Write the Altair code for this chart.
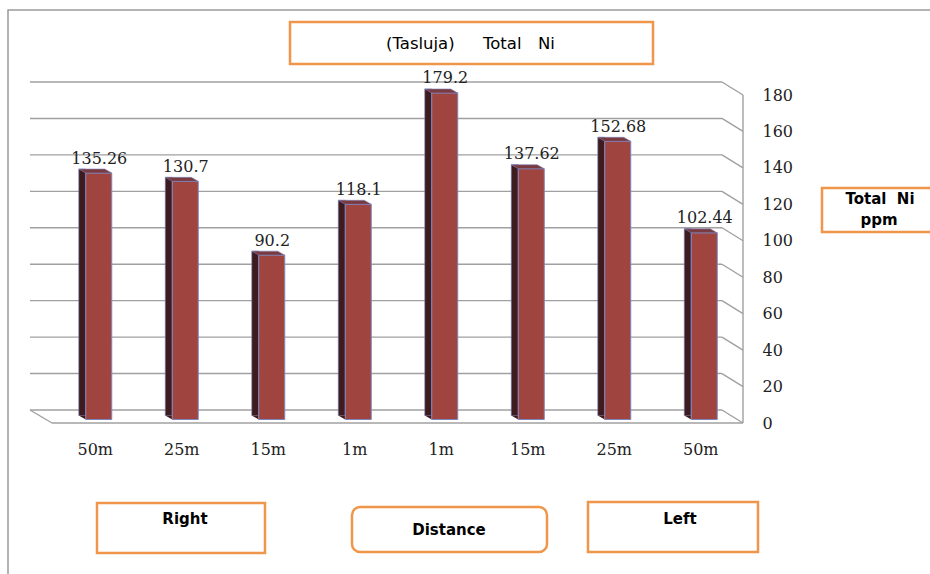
import json
import altair as alt
import pandas as pd

# ---- data -------------------------------------------------------------
distance_labels = ["50m", "25m", "15m", "1m", "1m", "15m", "25m", "50m"]
total_ni_ppm = [135.26, 130.7, 90.2, 118.1, 179.2, 137.62, 152.68, 102.44]
y_ticks = [0, 20, 40, 60, 80, 100, 120, 140, 160, 180]

bars = pd.DataFrame({
    "idx": list(range(len(total_ni_ppm))),
    "ni": total_ni_ppm,
})
bars["ni_text"] = bars["ni"].map(str)
ticks = pd.DataFrame({"t": y_ticks})
one = alt.Data(values=[{"k": 0}])

# ---- layout -----------------------------------------------------------
L, T = 52, 95          # plot origin on the page
W, H = 692, 328        # plot (front plane) size
DX, DY = -22, -13      # depth shift of the back wall

FRONT = "#A0443F"
SIDE = "#3E1B1F"
TOP = "#7A3A40"
EDGE = "#7E86C0"
GRID = "#A0A0A0"
ORANGE = "#F0964A"
SERIF = "DejaVu Serif"
SANS = "DejaVu Sans"
NBSP = "\u00a0"

yscale = alt.Scale(domain=[0, 180], nice=False, zero=True)
xscale = alt.Scale(paddingInner=0, paddingOuter=0)

label_expr = json.dumps(distance_labels) + "[datum.value]"

# one axis definition per channel, shared by every layer so they merge cleanly
x_axis = alt.Axis(
    title=None, labelExpr=label_expr, labelAngle=0, domain=False, ticks=False,
    labelPadding=18, labelFont=SERIF, labelFontSize=16, labelColor="#222",
)
y_axis = alt.Axis(
    orient="right", title=None, values=y_ticks, domain=False, ticks=False, grid=False,
    labelPadding=18, labelAlign="left", labelFont=SERIF, labelFontSize=16,
    labelColor="#222",
)
X = alt.X("idx:O", scale=xscale, axis=x_axis)


def Y(field):
    return alt.Y(field, scale=yscale, axis=y_axis)


def Yd(v):
    return alt.datum(v, scale=yscale, axis=y_axis)


# ---- 3-D frame: back wall grid, right wall edges, floor ---------------
back_grid = alt.Chart(ticks).mark_rule(color=GRID, strokeWidth=1.4, yOffset=DY).encode(
    y=Y("t:Q"), x=alt.value(DX), x2=alt.value(W + DX),
)
side_grid = alt.Chart(ticks).mark_rule(color=GRID, strokeWidth=1.4, yOffset=DY, y2Offset=0).encode(
    y=Y("t:Q"), y2="t:Q", x=alt.value(W + DX), x2=alt.value(W - 1),
)
right_edge = alt.Chart(one).mark_rule(color=GRID, strokeWidth=1.4).encode(
    y=Yd(180), y2=alt.datum(0), x=alt.value(W - 1),
)
floor_front = alt.Chart(one).mark_rule(color=GRID, strokeWidth=1.4).encode(
    y=Yd(0), x=alt.value(0), x2=alt.value(W - 1),
)
floor_left = alt.Chart(one).mark_rule(color=GRID, strokeWidth=1.4, yOffset=DY, y2Offset=0).encode(
    y=Yd(0), y2=alt.datum(0), x=alt.value(DX), x2=alt.value(0),
)

# ---- 3-D bars -----------------------------------------------------------
side_face = alt.Chart(bars).mark_bar(
    width=7, xOffset=-13, yOffset=-7.5, y2Offset=-7.5, color=SIDE,
    stroke=EDGE, strokeWidth=0.6,
).encode(x=X, y=Y("ni:Q"), y2=alt.datum(0))

side_foot = alt.Chart(bars).mark_point(
    shape="M -0.825 -0.375 L -0.475 -0.375 L -0.475 -0.175 Z",
    size=1600, filled=True, fill=SIDE, strokeWidth=0, opacity=1,
).encode(x=X, y=Yd(0))

front_face = alt.Chart(bars).mark_bar(
    width=26, xOffset=3.5, yOffset=-3.5, y2Offset=-3.5, color=FRONT,
    stroke=EDGE, strokeWidth=1,
).encode(x=X, y=Y("ni:Q"), y2=alt.datum(0))

top_face = alt.Chart(bars).mark_point(
    shape="M -0.475 -0.175 L 0.825 -0.175 L 0.475 -0.375 L -0.825 -0.375 Z",
    size=1600, filled=True, fill=TOP, stroke=EDGE, strokeWidth=0.6, opacity=1,
).encode(x=X, y=Y("ni:Q"))

value_labels = alt.Chart(bars).mark_text(
    dx=4, dy=-13, baseline="alphabetic", align="center",
    font=SERIF, fontSize=16, color="#222",
).encode(x=X, y=Y("ni:Q"), text="ni_text:N")


# ---- text boxes ---------------------------------------------------------
def box(x0, y0, x1, y1, radius=0):
    return alt.Chart(one).mark_rect(
        fill="white", stroke=ORANGE, strokeWidth=2.5, cornerRadius=radius,
    ).encode(
        x=alt.value(x0 - L), x2=alt.value(x1 - L),
        y=alt.value(y0 - T), y2=alt.value(y1 - T),
    )


def label(s, x, y, size=15, weight="bold", align="center"):
    return alt.Chart(one).mark_text(
        text=s, font=SANS, fontSize=size, fontWeight=weight, align=align,
        baseline="middle", color="#000",
    ).encode(x=alt.value(x - L), y=alt.value(y - T))


frame = alt.Chart(one).mark_rect(
    filled=False, stroke="#9A9A9A", strokeWidth=1.5,
).encode(
    x=alt.value(8 - L), x2=alt.value(960 - L),
    y=alt.value(10 - T), y2=alt.value(600 - T),
)

annotations = [
    box(290, 22, 653, 64),
    label("(Tasluja)", 386, 44, size=16.5, weight="normal", align="left"),
    label("Total", 483, 44, size=16.5, weight="normal", align="left"),
    label("Ni", 538, 44, size=16.5, weight="normal", align="left"),
    box(822, 188, 960, 232),
    label("Total" + NBSP + NBSP + "Ni", 880, 199),
    label("ppm", 879, 220),
    box(97, 503, 265, 553),
    label("Right", 185, 519),
    box(352, 507, 547, 552, radius=8),
    label("Distance", 449, 530),
    box(588, 502, 758, 552),
    label("Left", 680, 519),
]

chart = alt.layer(
    frame,
    back_grid, side_grid, right_edge, floor_front, floor_left,
    side_face, side_foot, front_face, top_face, value_labels,
    *annotations,
).properties(
    width=W, height=H,
    background="white",
    padding={"left": L, "top": T, "right": 930 - L - W, "bottom": 574 - T - H},
    autosize=alt.AutoSizeParams(type="none"),
).configure_view(stroke="transparent")

chart.save("out.html", embed_options={"renderer": "svg", "actions": False})
